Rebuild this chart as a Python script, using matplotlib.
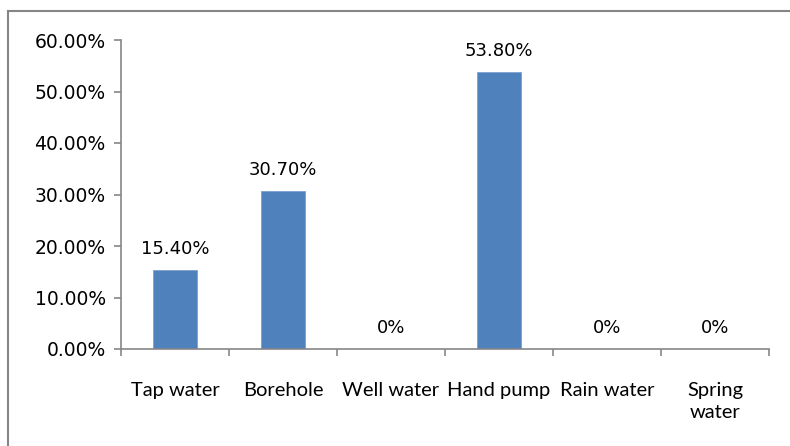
import matplotlib.pyplot as plt
from matplotlib.lines import Line2D

# data
sources = ["Tap water", "Borehole", "Well water", "Hand pump", "Rain water", "Spring\nwater"]
shares = [15.4, 30.7, 0.0, 53.8, 0.0, 0.0]
bar_labels = ["15.40%", "30.70%", "0%", "53.80%", "0%", "0%"]
y_ticks = [0, 10, 20, 30, 40, 50, 60]

fig = plt.figure(figsize=(7.9, 4.46), dpi=100)
ax = fig.add_axes([121 / 790, 1 - 349 / 446, (769 - 121) / 790, (349 - 40) / 446])

x = list(range(len(sources)))
bars = ax.bar(x, shares, width=0.41, color="#4F81BD", edgecolor="#7DA0CF", linewidth=0.6, zorder=2)

for xi, val, lab in zip(x, shares, bar_labels):
    ax.text(xi, val + 2.3, lab, ha="center", va="bottom", fontsize=13,
            family="DejaVu Sans", color="#000000")

ax.set_xlim(-0.5, len(sources) - 0.5)
ax.set_ylim(0, 60)
ax.set_yticks(y_ticks)
ax.set_yticklabels(["%.2f%%" % v for v in y_ticks], fontsize=13.5, family="DejaVu Sans")

# category ticks sit between the bars
ax.set_xticks([i - 0.5 for i in range(len(sources) + 1)])
ax.set_xticklabels([])
ax.set_xticks(x, minor=True)
ax.set_xticklabels(sources, minor=True, fontsize=14.5, family="Lato", linespacing=1.35)
ax.tick_params(axis="x", which="minor", length=0, pad=24)
ax.tick_params(axis="x", which="major", length=5, width=1.2, color="#868686", direction="out")
ax.tick_params(axis="y", length=5, width=1.2, color="#868686", direction="out", pad=6)

for side in ["top", "right"]:
    ax.spines[side].set_visible(False)
for side in ["left", "bottom"]:
    ax.spines[side].set_color("#868686")
    ax.spines[side].set_linewidth(1.2)

# chart frame (left and top edges visible)
fig.add_artist(Line2D([8 / 790, 8 / 790], [0, 1 - 11 / 446], transform=fig.transFigure,
                      color="#868686", linewidth=1.5))
fig.add_artist(Line2D([8 / 790, 1], [1 - 11 / 446, 1 - 11 / 446], transform=fig.transFigure,
                      color="#868686", linewidth=1.5))

fig.savefig("out.png", dpi=100)
